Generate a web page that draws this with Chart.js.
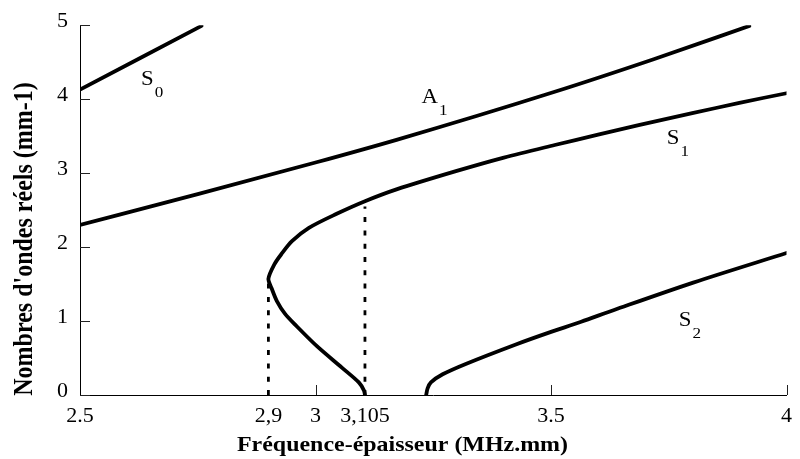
<!DOCTYPE html>
<html>
<head>
<meta charset="utf-8">
<title>Courbes de dispersion</title>
<script src="https://cdn.jsdelivr.net/npm/chart.js@4/dist/chart.umd.min.js"></script>
<style>
  html, body { margin: 0; padding: 0; background: #fff; }
  #c { display: block; }
</style>
</head>
<body>
<canvas id="c" width="800" height="459"></canvas>
<script>
// Mode S0 (symétrique, ordre 0)
const s0X = [2.5, 2.629, 2.758];
const s0Y = [4.13, 4.56, 4.99];

// Mode A1 (antisymétrique, ordre 1)
const a1X = [2.5, 2.752, 3.004, 3.172, 3.508, 3.718, 3.921];
const a1Y = [2.30, 2.72, 3.15, 3.45, 4.10, 4.54, 4.99];

// Mode S1 : branche à vitesse de groupe négative puis branche normale
const s1X = [3.105, 3.103, 3.092, 3.056, 3.003, 2.960, 2.935, 2.918, 2.907, 2.900,
             2.913, 2.927, 2.950, 2.986, 3.045, 3.105, 3.172, 3.3, 3.4, 3.508, 3.6, 3.686, 3.8, 3.9, 4.0];
const s1Y = [0.0, 0.06, 0.17, 0.37, 0.66, 0.93, 1.10, 1.27, 1.44, 1.57,
             1.77, 1.90, 2.08, 2.26, 2.45, 2.62, 2.78, 3.03, 3.21, 3.38, 3.52, 3.65, 3.81, 3.95, 4.08];

// Mode S2
const s2X = [3.235, 3.238, 3.245, 3.270, 3.319, 3.424, 3.494, 3.564, 3.634, 3.802, 4.0];
const s2Y = [0.0, 0.09, 0.17, 0.28, 0.42, 0.68, 0.84, 0.99, 1.15, 1.52, 1.92];

// Fréquences remarquables (traits pointillés) et hauteur des traits
const cutoffX = [2.9, 3.105];
const cutoffTop = [1.57, 2.55];

// Graduations
const xTickValues = [2.5, 2.9, 3, 3.105, 3.5, 4];
const xTickLabels = ['2.5', '2,9', '3', '3,105', '3.5', '4'];
const xMarkedTicks = [3, 3.5, 4];
const yTickValues = [0, 1, 2, 3, 4, 5];

const SERIF = '"Liberation Serif", "Times New Roman", Times, serif';
const STRETCH = 1.14; // largeur relative des caractères dessinés à la main

const pts = (xs, ys) => xs.map((x, i) => ({ x: x, y: ys[i] }));

const curveStyle = {
  showLine: true,
  borderColor: '#000',
  backgroundColor: '#000',
  borderWidth: 3.8,
  pointRadius: 0,
  pointHoverRadius: 0,
  borderCapStyle: 'round',
  borderJoinStyle: 'round',
  fill: false
};
const smoothX = { cubicInterpolationMode: 'monotone' };
const smoothFree = { tension: 0.3 };

const dottedStyle = {
  showLine: true,
  borderColor: '#000',
  borderWidth: 2.8,
  borderDash: [5, 8.3],
  borderCapStyle: 'butt',
  pointRadius: 0,
  pointHoverRadius: 0,
  tension: 0,
  fill: false
};

const datasets = [
  Object.assign({ label: 'S0', data: pts(s0X, s0Y) }, curveStyle, smoothX),
  Object.assign({ label: 'A1', data: pts(a1X, a1Y) }, curveStyle, smoothX),
  Object.assign({ label: 'S1', data: pts(s1X, s1Y) }, curveStyle, smoothFree),
  Object.assign({ label: 'S2', data: pts(s2X, s2Y) }, curveStyle, smoothFree)
];
cutoffX.forEach((fx, i) => {
  datasets.push(Object.assign({
    label: 'fc' + i,
    data: [{ x: fx, y: 0 }, { x: fx, y: cutoffTop[i] }]
  }, dottedStyle));
});

// Noms des modes, ancrés en coordonnées du graphique
const modeLabels = [
  { name: 'S', sub: '0', x: 2.6296, y: 4.189 },
  { name: 'A', sub: '1', x: 3.2248, y: 3.949 },
  { name: 'S', sub: '1', x: 3.7458, y: 3.391 },
  { name: 'S', sub: '2', x: 3.771, y: 0.931 }
];

// Graduations intérieures, noms des modes et titres des axes
const decorations = {
  id: 'decorations',
  afterDraw(chart) {
    const ctx = chart.ctx;
    const xs = chart.scales.x;
    const ys = chart.scales.y;
    const area = chart.chartArea;

    ctx.save();
    ctx.strokeStyle = '#222';
    ctx.lineWidth = 1;
    ctx.beginPath();
    yTickValues.forEach(v => {
      const py = Math.round(ys.getPixelForValue(v)) + 0.5;
      ctx.moveTo(area.left, py);
      ctx.lineTo(area.left + 10, py);
    });
    xMarkedTicks.forEach(v => {
      const px = Math.round(xs.getPixelForValue(v)) + 0.5;
      ctx.moveTo(px, area.bottom);
      ctx.lineTo(px, area.bottom - 10);
    });
    ctx.stroke();
    ctx.restore();

    // noms des modes avec indice
    ctx.save();
    ctx.fillStyle = '#000';
    ctx.textBaseline = 'alphabetic';
    ctx.textAlign = 'left';
    modeLabels.forEach(m => {
      const px = xs.getPixelForValue(m.x);
      const py = ys.getPixelForValue(m.y);
      ctx.save();
      ctx.translate(px, py);
      ctx.scale(STRETCH, 1);
      ctx.font = '20px ' + SERIF;
      ctx.fillText(m.name, 0, 0);
      const w = ctx.measureText(m.name).width;
      ctx.font = '15px ' + SERIF;
      ctx.fillText(m.sub, w + 1, 12);
      ctx.restore();
    });
    ctx.restore();

    // titre de l'axe horizontal
    ctx.save();
    ctx.fillStyle = '#000';
    ctx.font = 'bold 21px ' + SERIF;
    ctx.textAlign = 'center';
    ctx.textBaseline = 'alphabetic';
    ctx.translate(402.5, 451);
    ctx.scale(STRETCH, 1);
    ctx.fillText('Fréquence-épaisseur (MHz.mm)', 0, 0);
    ctx.restore();

    // titre de l'axe vertical
    ctx.save();
    ctx.fillStyle = '#000';
    ctx.font = 'bold 24px ' + SERIF;
    ctx.textAlign = 'center';
    ctx.textBaseline = 'alphabetic';
    ctx.translate(32, 239);
    ctx.scale(STRETCH, 1);
    ctx.rotate(-Math.PI / 2);
    ctx.fillText("Nombres d'ondes réels (mm-1)", 0, 0);
    ctx.restore();
  }
};

new Chart(document.getElementById('c'), {
  type: 'scatter',
  data: { datasets: datasets },
  options: {
    responsive: false,
    animation: false,
    devicePixelRatio: 1,
    events: [],
    layout: { padding: { left: 50, right: 6, top: 19, bottom: 0 } },
    plugins: {
      legend: { display: false },
      tooltip: { enabled: false },
      title: { display: false }
    },
    scales: {
      x: {
        type: 'linear',
        min: 2.5,
        max: 4,
        afterBuildTicks: s => { s.ticks = xTickValues.map(v => ({ value: v })); },
        afterFit: s => { s.height = 64; },
        grid: { display: false, drawTicks: false },
        border: { display: true, color: '#000', width: 1 },
        ticks: {
          autoSkip: false,
          maxRotation: 0,
          minRotation: 0,
          padding: 8,
          color: '#000',
          font: { family: SERIF, size: 22 },
          callback: v => {
            const i = xTickValues.indexOf(v);
            return i >= 0 ? xTickLabels[i] : '';
          }
        }
      },
      y: {
        type: 'linear',
        min: 0,
        max: 5,
        afterBuildTicks: s => { s.ticks = yTickValues.map(v => ({ value: v })); },
        afterFit: s => { s.width = 30; },
        grid: { display: false, drawTicks: false },
        border: { display: true, color: '#000', width: 1 },
        ticks: {
          padding: 12,
          labelOffset: -4,
          color: '#000',
          font: { family: SERIF, size: 22 },
          callback: v => String(v)
        }
      }
    }
  },
  plugins: [decorations]
});
</script>
</body>
</html>
